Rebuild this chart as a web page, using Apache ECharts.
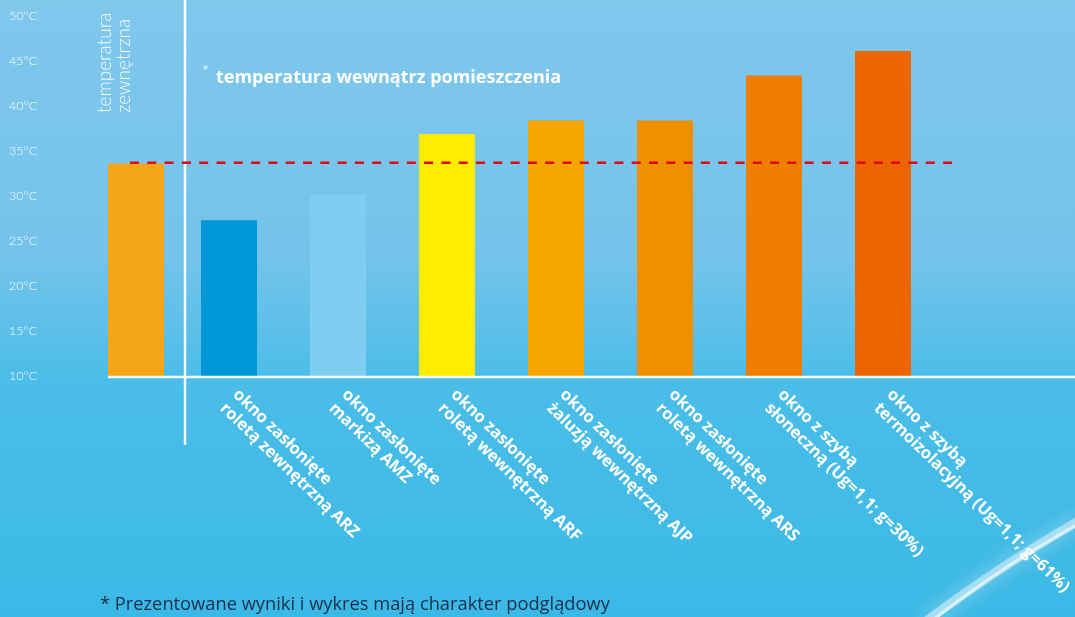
<!DOCTYPE html>
<html><head><meta charset="utf-8">
<script src="https://cdn.jsdelivr.net/npm/echarts@6/dist/echarts.min.js"></script>
<style>html,body{margin:0;padding:0;background:#6fc3ea}#c{width:1075px;height:617px}</style>
</head><body><div id="c"></div>
<script>
// ---- data ----
const outsideCategory = ['temperatura\nzewnętrzna'];
const outsideValues = [33.6];
const windowCategories = [
  'okno zasłonięte\nroletą zewnętrzną ARZ',
  'okno zasłonięte\nmarkizą AMZ',
  'okno zasłonięte\nroletą wewnętrzną ARF',
  'okno zasłonięte\nżaluzją wewnętrzną AJP',
  'okno zasłonięte\nroletą wewnętrzną ARS',
  'okno z szybą\nsłoneczną (Ug=1,1; g=30%)',
  'okno z szybą\ntermoizolacyjną (Ug=1,1; g=61%)'
];
const windowValues = [27.3, 30.2, 36.9, 38.4, 38.4, 43.4, 46.1];
const insideReference = [33.7];
const yMin = 10, yMax = 50, yStep = 5;
const legendMark = '*';
const legendText = 'temperatura wewnątrz pomieszczenia';
const footnoteText = '* Prezentowane wyniki i wykres mają charakter podglądowy';

// ---- styles ----
const outsideColors = ['#f5a51a'];
const windowColors = ['#0097d8', '#80cdf2', '#ffec00', '#f5a600', '#f08f00', '#ee7d00', '#ec6500'];

const chart = echarts.init(document.getElementById('c'), null, {renderer: 'canvas'});
const grids = {top: 16, bottom: 241};
const option = {
  animation: false,
  backgroundColor: {
    type: 'linear', x: 0, y: 0, x2: 0, y2: 1,
    colorStops: [
      {offset: 0, color: '#80c7ec'},
      {offset: 0.42, color: '#74c3ea'},
      {offset: 0.62, color: '#4abde8'},
      {offset: 1, color: '#3bb9e6'}
    ]
  },
  grid: [
    {left: 82, width: 108, top: grids.top, bottom: grids.bottom, outerBoundsMode: 'none', containLabel: false},
    {left: 174.5, width: 763, top: grids.top, bottom: grids.bottom, outerBoundsMode: 'none', containLabel: false}
  ],
  xAxis: [
    {gridIndex: 0, type: 'category', data: outsideCategory,
     axisLine: {show: false}, axisTick: {show: false}, axisLabel: {show: false}},
    {gridIndex: 1, type: 'category', data: windowCategories,
     axisLine: {show: false}, axisTick: {show: false},
     axisLabel: {interval: 0, rotate: -44, margin: 23, color: '#ffffff', hideOverlap: false,
       fontFamily: '"Open Sans", sans-serif', fontWeight: 'bold', fontSize: 16.5, lineHeight: 19}}
  ],
  yAxis: [
    {gridIndex: 0, type: 'value', min: yMin, max: yMax, interval: yStep,
     axisLine: {show: false}, axisTick: {show: false}, splitLine: {show: false},
     axisLabel: {formatter: '{value}°C', align: 'left', margin: 73, color: 'rgba(255,255,255,0.95)',
       padding: [0, 0, 3, 0],
       fontFamily: 'Lato, sans-serif', fontWeight: 300, fontSize: 12.5}},
    {gridIndex: 1, type: 'value', min: yMin, max: yMax, interval: yStep, show: false,
     splitLine: {show: false}}
  ],
  series: [
    {type: 'bar', xAxisIndex: 0, yAxisIndex: 0, barWidth: 56,
     data: outsideValues.map((v, i) => ({value: v, itemStyle: {color: outsideColors[i]}}))},
    {type: 'bar', xAxisIndex: 1, yAxisIndex: 1, barWidth: 56,
     data: windowValues.map((v, i) => ({value: v, itemStyle: {color: windowColors[i]}}))}
  ]
};
chart.setOption(option);

const yBase = chart.convertToPixel({yAxisIndex: 0}, yMin);
const yRef = chart.convertToPixel({yAxisIndex: 0}, insideReference[0]);
const bar1x = chart.convertToPixel({xAxisIndex: 0}, 0);

chart.setOption({
  graphic: [
    {type: 'bezierCurve', silent: true, z: 1,
     shape: {x1: 925, y1: 622, cpx1: 985, cpy1: 578, cpx2: 1020, cpy2: 555, x2: 1080, y2: 520},
     style: {stroke: 'rgba(255,255,255,0.45)', lineWidth: 9, fill: null, shadowBlur: 18, shadowColor: 'rgba(255,255,255,0.9)'}},
    {type: 'bezierCurve', silent: true, z: 1,
     shape: {x1: 930, y1: 622, cpx1: 985, cpy1: 580, cpx2: 1020, cpy2: 557, x2: 1080, y2: 523},
     style: {stroke: 'rgba(255,255,255,0.6)', lineWidth: 3, fill: null}},
    {type: 'line', silent: true, z: 5,
     shape: {x1: 185, y1: 0, x2: 185, y2: 445},
     style: {stroke: 'rgba(255,255,255,0.95)', lineWidth: 2.5}},
    {type: 'line', silent: true, z: 5,
     shape: {x1: bar1x - 28, y1: yBase + 1, x2: 1075, y2: yBase + 1},
     style: {stroke: 'rgba(255,255,255,0.95)', lineWidth: 2.5}},
    {type: 'line', silent: true, z: 6,
     shape: {x1: 130, y1: yRef, x2: 956, y2: yRef},
     style: {stroke: '#e30613', lineWidth: 2.4, lineDash: [9, 8.3]}},
    {type: 'text', silent: true, z: 6, x: 95, y: 113, rotation: Math.PI / 2,
     style: {text: outsideCategory[0], fill: 'rgba(255,255,255,0.92)', font: '300 19px Lato, sans-serif',
       align: 'left', verticalAlign: 'top', lineHeight: 19}},
    {type: 'text', silent: true, z: 6, x: 202, y: 72,
     style: {text: legendMark, fill: '#ffffff', font: '300 18px Lato, sans-serif', align: 'left', verticalAlign: 'middle'}},
    {type: 'text', silent: true, z: 6, x: 216, y: 78,
     style: {text: legendText, fill: '#ffffff', font: 'bold 18px "Open Sans", sans-serif', align: 'left', verticalAlign: 'middle'}},
    {type: 'text', silent: true, z: 6, x: 100, y: 605,
     style: {text: footnoteText, fill: '#1b2f4c', font: '18.3px "Open Sans", sans-serif', align: 'left', verticalAlign: 'middle'}}
  ]
});
</script>
</body></html>
